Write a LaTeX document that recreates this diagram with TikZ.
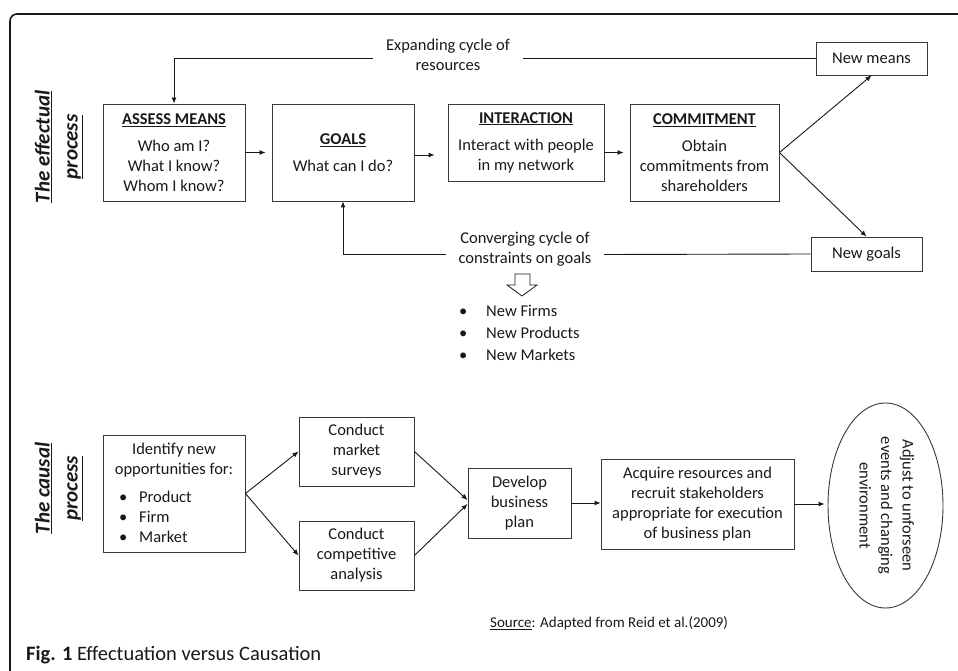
\documentclass[tikz,border=0pt]{standalone}
\usepackage{fontspec}
\setmainfont{Carlito}
\usetikzlibrary{arrows.meta,shapes.geometric}
\definecolor{boxgray}{gray}{0.22}
\definecolor{ink}{gray}{0.1}
\begin{document}
\begin{tikzpicture}[x=1pt,y=-1pt,
  box/.style={draw=boxgray, line width=0.9pt, inner sep=0pt, align=center, text=ink, font=\fontsize{16.5}{20}\selectfont},
  txt/.style={inner sep=0pt, align=center, text=ink, font=\fontsize{16.5}{20}\selectfont},
  arr/.style={-{Latex[length=6pt,width=5pt]}, line width=0.9pt, draw=ink},
  ln/.style={line width=0.9pt, draw=ink},
  sidelabel/.style={rotate=90, inner sep=0pt, align=center, text=ink, font=\fontsize{21}{28}\selectfont\bfseries\itshape},
]
\useasboundingbox (0,0) rectangle (958,671);
% frame
\draw[line width=1.6pt, draw=ink, rounded corners=7pt] (10,672) -- (10,14) -- (960,14);

% ---------------- effectual process ----------------
\node[sidelabel] (efflabel) at (59,147) {\underline{The effectual}\\\underline{process}};

\node[box, minimum width=142, minimum height=97] (assess) at (174,152.5)
  {\underline{\textbf{ASSESS MEANS}}\\[7pt]Who am I?\\What I know?\\Whom I know?};
\node[box, minimum width=142, minimum height=97] (goals) at (343,152.5)
  {\underline{\textbf{GOALS}}\\[7pt]What can I do?};
\node[box, minimum width=156, minimum height=77] (interaction) at (526,142.5)
  {\underline{\textbf{INTERACTION}}\\[7pt]Interact with people\\in my network};
\node[box, minimum width=149, minimum height=97] (commit) at (704.5,152.5)
  {\underline{\textbf{COMMITMENT}}\\[7pt]Obtain\\commitments from\\shareholders};
\node[box, minimum width=111, minimum height=33] (newmeans) at (871.5,58.5) {New means};
\node[box, minimum width=111, minimum height=34] (newgoals) at (866.5,254) {New goals};

\node[txt] (exp) at (448,55) {Expanding cycle of\\resources};
\node[txt] (conv) at (525,249) {Converging cycle of\\constraints on goals};
\coordinate (expL) at (373,58.5);
\coordinate (expR) at (523,58.5);
\coordinate (convL) at (446,254.5);
\coordinate (convR) at (604,254.5);

\draw[ln] (newmeans.west) -- (expR);
\draw[arr] (expL) -| (assess.north);
\draw[ln] (newgoals.west) -- (convR);
\draw[arr] (convL) -| (goals.south);

\draw[arr, shorten >=6pt] (assess.east) -- (goals.west);
\draw[arr, shorten >=13pt] ([yshift=-2.5pt]goals.east) -- ([yshift=-2.5pt]goals.east -| interaction.west);
\draw[arr, shorten >=6pt] (interaction.east |- commit.west) -- (commit.west);
\draw[arr] (commit.east) -- (newmeans.south);
\draw[arr] (commit.east) -- (newgoals.north);

% hollow down arrow
\draw[line width=0.8pt, draw=ink] (515,274) -- (530,274) -- (530,285) -- (537,285) -- (522,296) -- (507,285) -- (515,285) -- cycle;

\node[txt, anchor=north west, align=left, font=\fontsize{16.5}{22}\selectfont] (newlist) at (459,301)
  {\begin{tabular}{@{}p{27pt}@{}l@{}}\textbullet & New Firms\\ \textbullet & New Products\\ \textbullet & New Markets\end{tabular}};

% ---------------- causal process ----------------
\node[sidelabel] (causlabel) at (59,488.5) {\underline{The causal}\\\underline{process}};

\node[box, minimum width=142, minimum height=117] (identify) at (174,493.5) {};
\node[txt] (idtxt) at (174,460.5) {Identify new\\opportunities for:};
\node[txt, anchor=north west, align=left] (idlist) at (119,488.5)
  {\begin{tabular}{@{}p{20pt}@{}l@{}}\textbullet & Product\\ \textbullet & Firm\\ \textbullet & Market\end{tabular}};

\node[box, minimum width=115, minimum height=69] (market) at (356.5,451.5) {Conduct\\market\\surveys};
\node[box, minimum width=115, minimum height=69] (comp) at (356.5,555.5) {Conduct\\competitive\\analysis};
\node[box, minimum width=103, minimum height=70] (develop) at (519.5,503) {Develop\\business\\plan};
\node[box, minimum width=193, minimum height=90] (acquire) at (697.5,504)
  {Acquire resources and\\recruit stakeholders\\appropriate for execution\\of business plan};
\node[box, ellipse, minimum width=115, minimum height=205, font=\fontsize{16.5}{21.5}\selectfont] (adjust) at (885.5,505.5)
  {\rotatebox{-90}{\begin{tabular}{@{}c@{}}Adjust to unforseen\\events and changing\\environment\end{tabular}}};

\draw[arr] (identify.east) -- (market.west);
\draw[arr] (identify.east) -- (comp.west);
\draw[arr] (market.east) -- ([yshift=3pt]develop.west);
\draw[arr] (comp.east) -- ([yshift=-1pt]develop.west);
\draw[arr] (develop.east) -- (develop.east -| acquire.west);
\draw[arr, shorten >=3pt] (acquire.east) -- (acquire.east -| adjust.west);

\node[inner sep=0pt, anchor=west, text=ink, font=\fontsize{15}{18}\selectfont] (src) at (490,623)
  {\underline{Source}: Adapted from Reid et al.(2009)};
\node[inner sep=0pt, anchor=west, text=ink, font=\fontsize{20.5}{24}\selectfont] (caption) at (26,655)
  {\textbf{Fig. 1} Effectuation versus Causation};
\end{tikzpicture}
\end{document}
